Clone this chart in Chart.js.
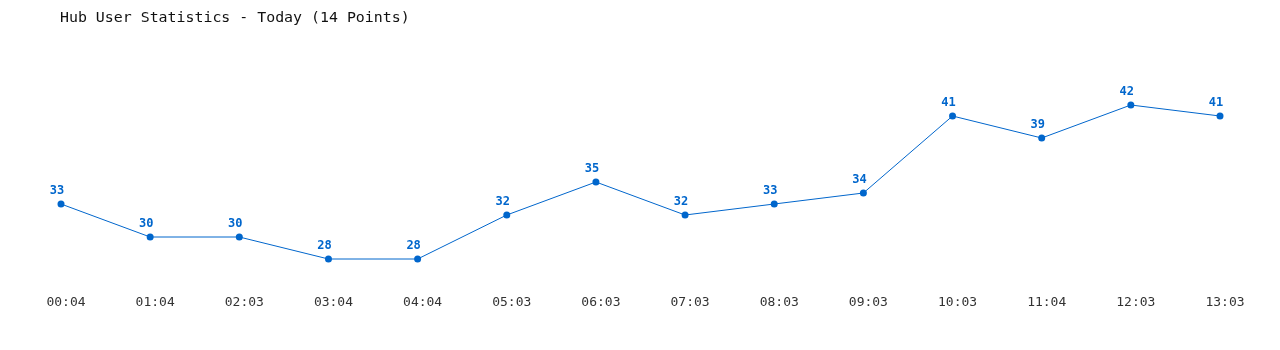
<!DOCTYPE html>
<html>
<head>
<meta charset="utf-8">
<script src="https://cdn.jsdelivr.net/npm/chart.js@4/dist/chart.umd.min.js"></script>
<style>
  html, body { margin: 0; padding: 0; background: #fff; }
  #wrap { width: 1280px; height: 350px; position: relative; }
</style>
</head>
<body>
<div id="wrap"><canvas id="hubChart" width="1280" height="350"></canvas></div>
<script>
// données
const chartTitle = "Hub User Statistics - Today (14 Points)";
const times = ["00:04", "01:04", "02:03", "03:04", "04:04", "05:03", "06:03",
               "07:03", "08:03", "09:03", "10:03", "11:04", "12:03", "13:03"];
const users = [33, 30, 30, 28, 28, 32, 35, 32, 33, 34, 41, 39, 42, 41];

const blue = "#0066cc";
const mono = "'DejaVu Sans Mono', 'Liberation Mono', monospace";

// titre en haut à gauche
const titlePlugin = {
  id: "hubTitle",
  afterDraw(chart) {
    const ctx = chart.ctx;
    ctx.save();
    ctx.fillStyle = "#111";
    ctx.font = "14.9px " + mono;
    ctx.textBaseline = "middle";
    ctx.textAlign = "left";
    ctx.fillText(chartTitle, 60, 18);
    ctx.restore();
  }
};

// valeurs au-dessus des points
const valueLabels = {
  id: "valueLabels",
  afterDatasetsDraw(chart) {
    const ctx = chart.ctx;
    const meta = chart.getDatasetMeta(0);
    ctx.save();
    ctx.fillStyle = blue;
    ctx.font = "bold 12px " + mono;
    ctx.textAlign = "center";
    ctx.textBaseline = "middle";
    meta.data.forEach((pt, i) => {
      ctx.fillText(users[i], pt.x - 4, pt.y - 13);
    });
    ctx.restore();
  }
};

const ctx = document.getElementById("hubChart").getContext("2d");
new Chart(ctx, {
  type: "line",
  data: {
    labels: times,
    datasets: [{
      data: users,
      borderColor: blue,
      backgroundColor: blue,
      borderWidth: 1,
      pointRadius: 3.5,
      pointBorderWidth: 0,
      pointBackgroundColor: blue,
      tension: 0,
      fill: false
    }]
  },
  options: {
    responsive: false,
    animation: false,
    devicePixelRatio: 1,
    layout: { padding: { left: 61, right: 60, top: 50, bottom: 0 } },
    plugins: {
      legend: { display: false },
      tooltip: { enabled: false },
      title: { display: false }
    },
    scales: {
      x: {
        offset: false,
        grid: { display: false, drawTicks: false },
        border: { display: false },
        ticks: {
          color: "#333",
          font: { family: mono, size: 13 },
          padding: 14,
          labelOffset: 5,
          maxRotation: 0,
          autoSkip: false
        },
        afterFit: (s) => { s.height = 69; }
      },
      y: {
        display: false,
        min: 26,
        max: 47
      }
    }
  },
  plugins: [titlePlugin, valueLabels]
});
</script>
</body>
</html>
